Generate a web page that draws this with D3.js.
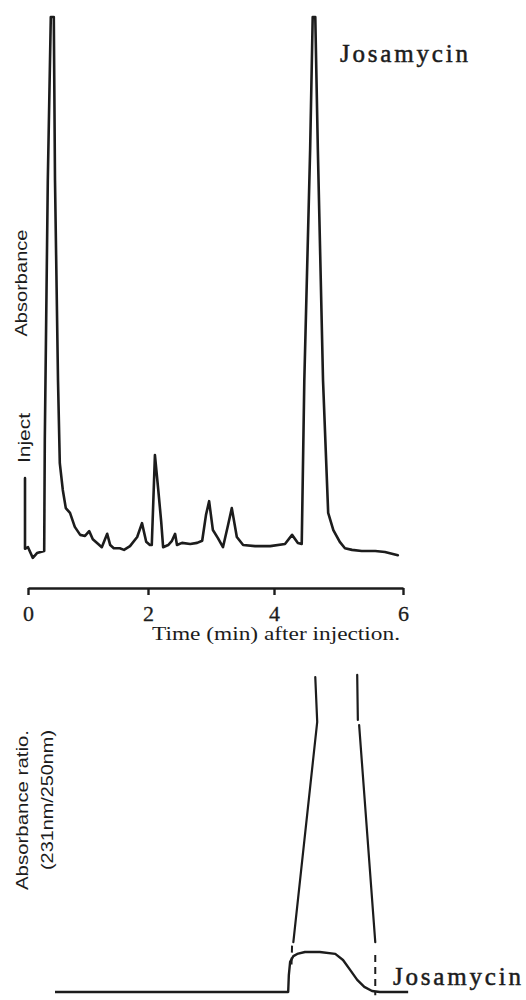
<!DOCTYPE html>
<html>
<head>
<meta charset="utf-8">
<script src="https://cdn.jsdelivr.net/npm/d3@7"></script>
<style>
  html, body { margin: 0; padding: 0; background: #fff; }
  svg { display: block; }
</style>
</head>
<body>
<svg id="chart" width="526" height="1000"></svg>
<script>
// Time axis (min after injection)
const timeTicks = [0, 2, 4, 6];
const tickLabels = ["0", "2", "4", "6"];

// Chromatogram at 231 nm: [time (min), absorbance (relative, 100 = recorder full scale)]
const chromatogram = [
  [-0.05, 13.8], [-0.05, 0.6], [0.00, 0.9], [0.08, -1.1], [0.15, -0.2], [0.27, 0.2],
  [0.28, 20.9], [0.33, 69.5], [0.38, 100], [0.43, 100], [0.45, 69.5], [0.50, 32.1],
  [0.53, 16.6], [0.58, 11.6], [0.63, 8.2], [0.70, 7.3], [0.78, 4.7], [0.87, 3.2],
  [0.95, 3.0], [1.02, 3.9], [1.08, 2.4], [1.17, 1.5], [1.23, 0.9], [1.32, 3.4],
  [1.37, 1.3], [1.43, 0.7], [1.53, 0.7], [1.60, 0.4], [1.70, 1.1], [1.82, 2.8],
  [1.90, 5.4], [1.97, 1.9], [2.03, 1.3], [2.06, 1.3], [2.11, 18.1], [2.16, 12.0],
  [2.21, 5.6], [2.24, 0.9], [2.32, 1.3], [2.38, 2.1], [2.43, 3.4], [2.46, 1.3],
  [2.54, 1.7], [2.67, 1.5], [2.78, 1.7], [2.86, 2.1], [2.92, 6.9], [2.97, 9.5],
  [3.03, 4.1], [3.11, 2.6], [3.19, 0.9], [3.27, 5.0], [3.33, 8.2], [3.41, 2.8],
  [3.51, 1.3], [3.70, 1.1], [3.94, 1.1], [4.17, 1.5], [4.28, 3.2], [4.37, 1.7],
  [4.43, 1.5], [4.47, 32.1], [4.56, 75.1], [4.60, 100], [4.64, 100], [4.68, 75.1],
  [4.76, 32.1], [4.84, 7.3], [4.92, 4.1], [5.02, 1.9], [5.10, 0.7], [5.21, 0.4],
  [5.36, 0.2], [5.57, 0.2], [5.72, 0.0], [5.92, -0.6]
];

// Absorbance ratio trace (231 nm / 250 nm): [time (min), ratio (relative)]
const ratioTrace = [
  [0.45, 0], [4.22, 0], [4.23, 0.53], [4.25, 0.94], [4.30, 1.12], [4.36, 1.19],
  [4.48, 1.25], [4.71, 1.25], [4.95, 1.19], [5.07, 1.0], [5.18, 0.69], [5.29, 0.38],
  [5.40, 0.16], [5.52, 0.03], [5.64, 0], [6.08, 0]
];

// Peak-limit guide lines carried down from the upper recorder scale
const leftGuide = [[4.64, 9.84], [4.67, 8.44], [4.30, 1.56]];
const rightGuideUpper = [[5.29, 9.91], [5.30, 8.5]];
const rightGuideLower = [[5.32, 8.34], [5.57, 1.56]];
const leftGuideDashed = [[4.28, 1.45], [4.27, 0.75]];
const rightGuideDashed = [[5.57, 1.16], [5.57, -0.1]];

const ink = "#1c1c1c";
const svg = d3.select("#chart");

const x = d3.scaleLinear().domain(timeTicks).range([28, 148, 274, 403]);
const yAbs = d3.scaleLinear().domain([0, 100]).range([552, 17]);
const yRatio = d3.scaleLinear().domain([0, 10]).range([992, 672]);

const absLine = d3.line().x(d => x(d[0])).y(d => yAbs(d[1]));
const ratioLine = d3.line().x(d => x(d[0])).y(d => yRatio(d[1]));

// Upper chromatogram
svg.append("path")
  .attr("d", absLine(chromatogram))
  .attr("fill", "none")
  .attr("stroke", ink)
  .attr("stroke-width", 2.6)
  .attr("stroke-linejoin", "round")
  .attr("stroke-linecap", "round");

// Time axis
const axis = d3.axisBottom(x)
  .tickValues(timeTicks)
  .tickFormat((d, i) => tickLabels[i])
  .tickSize(7)
  .tickSizeOuter(0)
  .tickPadding(10);

const gAxis = svg.append("g")
  .attr("transform", "translate(0,588)")
  .call(axis);
gAxis.select(".domain").attr("stroke", ink).attr("stroke-width", 2.6);
gAxis.selectAll(".tick line").attr("stroke", ink).attr("stroke-width", 2.4);
gAxis.selectAll(".tick text")
  .attr("fill", ink)
  .attr("stroke", ink).attr("stroke-width", 0.3)
  .style("font-family", "'Liberation Serif', 'DejaVu Serif', serif")
  .style("font-size", "22px");

svg.append("text")
  .attr("x", 152).attr("y", 640)
  .attr("textLength", 248).attr("lengthAdjust", "spacingAndGlyphs")
  .style("font-family", "'Liberation Serif', serif")
  .style("font-size", "18px")
  .attr("fill", ink)
  .text("Time (min) after injection.");

// Left labels (rotated)
function vlabel(text, cx, cy, len, size) {
  svg.append("text")
    .attr("transform", `translate(${cx},${cy}) rotate(-90)`)
    .attr("text-anchor", "middle")
    .attr("textLength", len).attr("lengthAdjust", "spacingAndGlyphs")
    .style("font-family", "'Liberation Sans', Arial, sans-serif")
    .style("font-size", size + "px")
    .attr("fill", ink)
    .text(text);
}
vlabel("Absorbance", 27, 283, 107, 16);
vlabel("Inject", 30, 438, 50, 16);
vlabel("Absorbance ratio.", 28, 810, 160, 16);
vlabel("(231nm/250nm)", 53, 800, 140, 16);

// Peak labels
function peakLabel(px, py) {
  svg.append("text")
    .attr("x", px).attr("y", py)
    .attr("textLength", 128).attr("lengthAdjust", "spacing")
    .style("font-family", "'Liberation Serif', serif")
    .style("font-size", "25px")
    .attr("stroke", ink).attr("stroke-width", 0.5)
    .attr("fill", ink)
    .text("Josamycin");
}
peakLabel(340, 62);
peakLabel(393, 985);

// Lower ratio panel
svg.append("path")
  .attr("d", ratioLine(ratioTrace))
  .attr("fill", "none")
  .attr("stroke", ink)
  .attr("stroke-width", 2.4)
  .attr("stroke-linejoin", "round");

[leftGuide, rightGuideUpper, rightGuideLower].forEach(seg => {
  svg.append("path")
    .attr("d", ratioLine(seg))
    .attr("fill", "none")
    .attr("stroke", ink)
    .attr("stroke-width", 2.2)
    .attr("stroke-linejoin", "round")
    .attr("stroke-linecap", "round");
});

[leftGuideDashed, rightGuideDashed].forEach(seg => {
  svg.append("path")
    .attr("d", ratioLine(seg))
    .attr("fill", "none")
    .attr("stroke", ink)
    .attr("stroke-width", 2)
    .attr("stroke-dasharray", "7,5");
});
</script>
</body>
</html>
